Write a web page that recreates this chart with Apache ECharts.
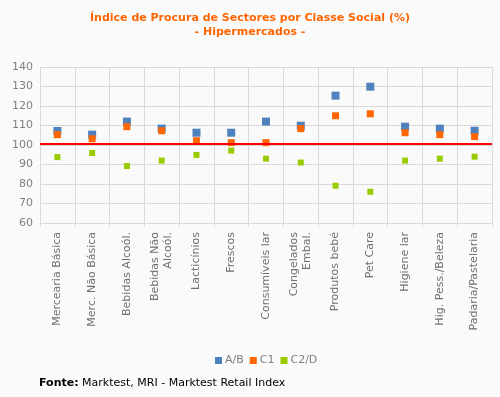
<!DOCTYPE html>
<html>
<head>
<meta charset="utf-8">
<script src="https://cdn.jsdelivr.net/npm/echarts@6/dist/echarts.min.js"></script>
<style>
    html, body { margin: 0; padding: 0; background: #fafafa; }
    #chart { width: 500px; height: 397px; }
</style>
</head>
<body>
<div id="chart"></div>
<script>
// sectores (eixo x)
var categories = [
    'Mercearia Básica', 'Merc. Não Básica', 'Bebidas Alcoól.', 'Bebidas Não\nAlcoól.',
    'Lacticínios', 'Frescos', 'Consumíveis lar', 'Congelados\nEmbal.',
    'Produtos bebé', 'Pet Care', 'Higiene lar', 'Hig. Pess./Beleza', 'Padaria/Pastelaria'
];
var seriesNames = ['A/B', 'C1', 'C2/D'];
var valuesAB = [107.2, 105.3, 112, 108.4, 106.3, 106.3, 112, 109.9, 125.3, 129.9, 109.4, 108.4, 107.3];
var valuesC1 = [105.3, 103.2, 109.4, 107.3, 102.2, 101.2, 101.2, 108.4, 115, 116, 106.3, 105.3, 104.3];
var valuesC2D = [93.8, 95.9, 89.2, 92, 94.9, 97.1, 93, 91, 79.1, 76, 92, 93, 94];
var referenceLine = [100.4];
var yTicks = [60, 140, 10]; // min, max, interval

var chart = echarts.init(document.getElementById('chart'));
var font = 'DejaVu Sans, Verdana, sans-serif';

var option = {
    backgroundColor: '#fafafa',
    animation: false,
    title: {
        text: 'Índice de Procura de Sectores por Classe Social (%)\n- Hipermercados -',
        left: 'center',
        top: 6,
        textStyle: {
            color: '#ff6600',
            fontFamily: font,
            fontSize: 11,
            fontWeight: 'bold',
            lineHeight: 14
        }
    },
    legend: {
        data: seriesNames,
        left: 210,
        top: 350,
        icon: 'rect',
        itemWidth: 7,
        itemHeight: 7,
        itemGap: 6,
        textStyle: {
            color: '#808080',
            fontFamily: font,
            fontSize: 11,
            padding: [0, 0, 0, -2]
        }
    },
    grid: {
        left: 40,
        right: 8,
        top: 67,
        bottom: 174
    },
    xAxis: {
        type: 'category',
        data: categories,
        boundaryGap: true,
        axisLine: { lineStyle: { color: '#d9d9d9' } },
        axisTick: { show: true, length: 4, lineStyle: { color: '#d9d9d9' } },
        splitLine: { show: true, lineStyle: { color: '#d9d9d9' } },
        axisLabel: {
            rotate: 90,
            interval: 0,
            margin: 9,
            color: '#707070',
            fontFamily: font,
            fontSize: 11,
            lineHeight: 13
        }
    },
    yAxis: {
        type: 'value',
        min: yTicks[0],
        max: yTicks[1],
        interval: yTicks[2],
        axisLine: { show: false },
        axisTick: { show: false },
        splitLine: { lineStyle: { color: '#d9d9d9' } },
        axisLabel: {
            color: '#808080',
            fontFamily: font,
            fontSize: 11,
            margin: 7
        }
    },
    series: [
        {
            name: 'A/B',
            type: 'scatter',
            symbol: 'rect',
            symbolSize: 8,
            itemStyle: { color: '#4f81bd', opacity: 1 },
            data: valuesAB,
            z: 3,
            markLine: {
                silent: true,
                symbol: 'none',
                label: { show: false },
                lineStyle: { color: '#ff0000', width: 2, type: 'solid' },
                data: [{ yAxis: referenceLine[0] }]
            }
        },
        {
            name: 'C1',
            type: 'scatter',
            symbol: 'rect',
            symbolSize: 7,
            itemStyle: { color: '#ff6600', opacity: 1 },
            data: valuesC1,
            z: 4
        },
        {
            name: 'C2/D',
            type: 'scatter',
            symbol: 'rect',
            symbolSize: 6,
            itemStyle: { color: '#99cc00', opacity: 1 },
            data: valuesC2D,
            z: 4
        }
    ],
    graphic: [
        {
            type: 'text',
            left: 39,
            top: 378,
            style: {
                text: '{b|Fonte:} Marktest, MRI - Marktest Retail Index',
                fill: '#000',
                font: '11px ' + font,
                rich: {
                    b: { fontWeight: 'bold', fontSize: 11, fontFamily: font, fill: '#000' }
                }
            }
        }
    ]
};

chart.setOption(option);
</script>
</body>
</html>
